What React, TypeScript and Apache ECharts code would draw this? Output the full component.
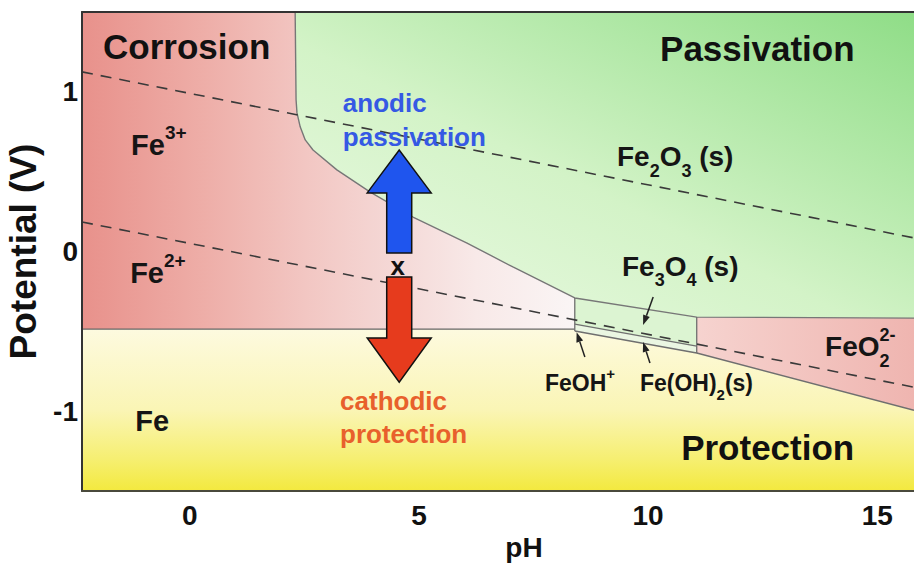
import React, { useEffect, useRef } from 'react';
import * as echarts from 'echarts';

const FONT = '"Liberation Sans", Arial, Helvetica, sans-serif';

// ---- axes ----
const phExtent = [-2.35, 15.8];
const potentialExtent = [-1.5, 1.5];
const phTicks = [0, 5, 10, 15];
const potentialTicks = [-1, 0, 1];

// ---- phase boundaries (pH, E in V) ----
const passivationCurve = [
  [2.3, 1.5], [2.32, 0.95], [2.34, 0.868], [2.41, 0.781], [2.52, 0.699], [2.69, 0.636],
  [3.21, 0.511], [3.93, 0.373], [4.87, 0.216], [6.05, 0.053], [7.05, -0.097], [8.4, -0.291],
];
const magnetiteTop = [[8.4, -0.291], [11.06, -0.411], [15.8, -0.417]];
const ironLine = [[-2.35, -0.486], [8.4, -0.486]];
const hydroxideUpper = [[8.4, -0.455], [11.06, -0.592]];
const hydroxideLower = [[8.4, -0.498], [11.06, -0.636], [15.8, -0.994]];
const magnetiteLeft = [[8.4, -0.291], [8.4, -0.498]];
const magnetiteRight = [[11.06, -0.411], [11.06, -0.636]];

// ---- water stability lines (dashed) ----
const oxygenLine = [[-2.35, 1.125], [15.8, 0.085]];
const hydrogenLine = [[-2.35, 0.185], [15.8, -0.85]];

// ---- labels ----
const regionTitles = ['Corrosion', 'Passivation', 'Protection'];
const regionTitlePos = [[-1.89, 1.282], [10.26, 1.27], [10.72, -1.226]];
const speciesNames = ['Fe^{3+}', 'Fe^{2+}', 'Fe', 'Fe_{2}O_{3} (s)', 'Fe_{3}O_{4} (s)', 'FeO_{2}^{2-}', 'FeOH^{+}', 'Fe(OH)_{2}(s)'];
const speciesPos = [[-1.28, 0.668], [-1.3, -0.135], [-1.19, -1.063], [9.32, 0.592], [9.43, -0.091], [13.86, -0.598], [7.75, -0.825], [9.82, -0.825]];
const processNames = ['anodic', 'passivation', 'x', 'cathodic', 'protection'];
const processPos = [[3.34, 0.931], [3.34, 0.718], [4.54, -0.091], [3.28, -0.937], [3.28, -1.144]];

// ---- arrows: [pH, tail E, head-base E, tip E] ----
const bigArrows = [[4.57, -0.009, 0.367, 0.636], [4.57, -0.16, -0.542, -0.818]];
// pointer arrows: [pH start, E start, pH end, E end]
const pointerArrows = [[8.62, -0.661, 8.44, -0.505], [10.04, -0.699, 9.89, -0.567], [10.11, -0.285, 9.89, -0.461]];

// ---- styling ----
const speciesSizes = [29, 29, 29, 28, 28, 28, 23, 23];
const processColors = ['#3559e4', '#3559e4', '#111111', '#e8602c', '#e8602c'];
const arrowColors = ['#1f55ee', '#e63b1d'];

let measureCtx: CanvasRenderingContext2D | null = null;
function textWidth(t: string, size: number) {
  if (!measureCtx && typeof document !== 'undefined') {
    measureCtx = document.createElement('canvas').getContext('2d');
  }
  if (!measureCtx) return t.length * size * 0.6;
  measureCtx.font = `bold ${size}px ${FONT}`;
  return measureCtx.measureText(t).width;
}

function parseMarkup(s: string) {
  const out: { t: string; k: 'n' | 'sub' | 'sup' }[] = [];
  const re = /([_^])\{([^}]*)\}|([^_^]+)/g;
  let m: RegExpExecArray | null;
  while ((m = re.exec(s))) {
    if (m[1]) out.push({ t: m[2], k: m[1] === '_' ? 'sub' : 'sup' });
    else out.push({ t: m[3], k: 'n' });
  }
  return out;
}

function buildLabel(markup: string, x: number, y: number, size: number, color: string, align: 'left' | 'center') {
  const toks = parseMarkup(markup);
  const small = Math.round(size * 0.65);
  const pieces: { t: string; x: number; dy: number; fs: number }[] = [];
  let cx = 0;
  let lastScriptStart: number | null = null;
  let prevKind = 'n';
  for (const tok of toks) {
    const fs = tok.k === 'n' ? size : small;
    let startX = cx;
    if (tok.k === 'sup' && prevKind === 'sub' && lastScriptStart != null) startX = lastScriptStart;
    let txt = tok.t;
    const lead = txt.match(/^\s+/);
    if (lead) {
      startX += textWidth(lead[0].replace(/\s/g, '\u00a0'), fs);
      txt = txt.slice(lead[0].length);
    }
    const w = textWidth(txt, fs);
    const dy = tok.k === 'sub' ? size * 0.5 : tok.k === 'sup' ? -size * 0.42 : 0;
    pieces.push({ t: txt, x: startX, dy, fs });
    if (tok.k !== 'n') lastScriptStart = startX;
    cx = Math.max(cx, startX + w);
    prevKind = tok.k;
  }
  const offset = align === 'center' ? -cx / 2 : 0;
  return pieces.map((p) => ({
    type: 'text',
    x: x + offset + p.x,
    y: y + p.dy,
    style: {
      text: p.t,
      fill: color,
      fontSize: p.fs,
      fontWeight: 'bold',
      fontFamily: FONT,
      align: 'left',
      verticalAlign: 'middle',
    },
  }));
}

function polygonSeries(pts: number[][], fill: any, z = 1) {
  return {
    type: 'custom',
    coordinateSystem: 'cartesian2d',
    silent: true,
    z,
    data: [pts[0]],
    renderItem: (_p: any, api: any) => ({
      type: 'polygon',
      shape: { points: pts.map((p) => api.coord(p)) },
      style: { fill, stroke: 'none' },
    }),
  };
}

function lineSeries(data: number[][], color: string, width: number, type: any = 'solid', z = 5) {
  return {
    type: 'line',
    data,
    symbol: 'none',
    silent: true,
    z,
    lineStyle: { color, width, type },
  };
}

function buildOption() {
  const [xMin, xMax] = phExtent;
  const [yMin, yMax] = potentialExtent;

  const corrosionPoly = [[xMin, yMax], ...passivationCurve, ironLine[1], ironLine[0]];
  const passivationPoly = [
    passivationCurve[0], [xMax, yMax], magnetiteTop[2], magnetiteTop[1],
    ...passivationCurve.slice().reverse(),
  ];
  const magnetitePoly = [magnetiteTop[0], magnetiteTop[1], hydroxideUpper[1], hydroxideUpper[0]];
  const hydroxidePoly = [hydroxideUpper[0], hydroxideUpper[1], hydroxideLower[1], hydroxideLower[0]];
  const ferratePoly = [magnetiteTop[1], magnetiteTop[2], hydroxideLower[2], hydroxideLower[1]];
  const ironPoly = [ironLine[0], ironLine[1], ...hydroxideLower, [xMax, yMin], [xMin, yMin]];

  const G = echarts.graphic.LinearGradient;
  const corrosionFill = new G(0, 0, 1, 0, [
    { offset: 0, color: '#e8918b' },
    { offset: 0.25, color: '#eeaea8' },
    { offset: 0.45, color: '#f2c6c2' },
    { offset: 0.65, color: '#f5dad8' },
    { offset: 0.8, color: '#f8e9e8' },
    { offset: 1, color: '#faf5f5' },
  ]);
  const passivationFill = new G(0, 1, 1, 0, [
    { offset: 0, color: '#edfae6' },
    { offset: 0.45, color: '#d3f3c7' },
    { offset: 1, color: '#8fdd87' },
  ]);
  const ironFill = new G(0, 0, 0, 1, [
    { offset: 0, color: '#fdfadf' },
    { offset: 0.5, color: '#faf5b5' },
    { offset: 0.8, color: '#f6ef72' },
    { offset: 1, color: '#f3e93e' },
  ]);
  const ferrateFill = new G(0, 0, 1, 0, [
    { offset: 0, color: '#f6d3cf' },
    { offset: 1, color: '#efb5b0' },
  ]);

  const labelItems: { text: string; pos: number[]; size: number; color: string; align: 'left' | 'center' }[] = [];
  regionTitles.forEach((t, i) => labelItems.push({ text: t, pos: regionTitlePos[i], size: 35, color: '#111111', align: 'left' }));
  speciesNames.forEach((t, i) => labelItems.push({ text: t, pos: speciesPos[i], size: speciesSizes[i], color: '#151515', align: 'left' }));
  processNames.forEach((t, i) => labelItems.push({ text: t, pos: processPos[i], size: 26, color: processColors[i], align: t === 'x' ? 'center' : 'left' }));

  const axisText = { color: '#111', fontWeight: 'bold', fontFamily: FONT };

  return {
    animation: false,
    grid: { left: 82, right: 0, top: 12, bottom: 72, containLabel: false, outerBoundsMode: 'none' },
    xAxis: [
      {
        type: 'value',
        min: xMin,
        max: xMax,
        name: 'pH',
        nameLocation: 'middle',
        nameGap: 38,
        nameTextStyle: { ...axisText, fontSize: 28, padding: [0, 0, 0, 52] },
        axisLine: { show: true, onZero: false, lineStyle: { color: '#4a4a3c', width: 2 } },
        axisTick: { show: false },
        splitLine: { show: false },
        axisLabel: { ...axisText, customValues: phTicks, fontSize: 28, margin: 10 },
        z: 10,
      },
      {
        type: 'value',
        position: 'top',
        min: xMin,
        max: xMax,
        axisLine: { show: true, onZero: false, lineStyle: { color: '#333', width: 2 } },
        axisTick: { show: false },
        axisLabel: { show: false },
        splitLine: { show: false },
        z: 10,
      },
    ],
    yAxis: {
      type: 'value',
      min: yMin,
      max: yMax,
      name: 'Potential (V)',
      nameLocation: 'middle',
      nameGap: 36,
      nameRotate: 90,
      nameTextStyle: { ...axisText, fontSize: 37 },
      axisLine: { show: true, onZero: false, lineStyle: { color: '#333', width: 2 } },
      axisTick: { show: false },
      splitLine: { show: false },
      axisLabel: { ...axisText, customValues: potentialTicks, fontSize: 28, margin: 4 },
      z: 10,
    },
    series: [
      polygonSeries(corrosionPoly, corrosionFill),
      polygonSeries(passivationPoly, passivationFill),
      polygonSeries(magnetitePoly, '#dcf4d2'),
      polygonSeries(hydroxidePoly, '#eaf6e2'),
      polygonSeries(ferratePoly, ferrateFill),
      polygonSeries(ironPoly, ironFill),
      lineSeries([...passivationCurve, ...magnetiteTop.slice(1)], '#777777', 1.4),
      lineSeries(ironLine, '#666666', 1.4),
      lineSeries(hydroxideUpper, '#6f6f6f', 1.3),
      lineSeries(hydroxideLower, '#6f6f6f', 1.4),
      lineSeries(magnetiteLeft, '#6f6f6f', 1.3),
      lineSeries(magnetiteRight, '#6f6f6f', 1.3),
      lineSeries(oxygenLine, '#3a3a3a', 1.6, [11, 8], 6),
      lineSeries(hydrogenLine, '#3a3a3a', 1.6, [11, 8], 6),
      {
        type: 'custom',
        coordinateSystem: 'cartesian2d',
        silent: true,
        z: 12,
        data: bigArrows.map((a) => [a[0], a[1]]),
        renderItem: (params: any, api: any) => {
          const a = bigArrows[params.dataIndex];
          const tail = api.coord([a[0], a[1]]);
          const base = api.coord([a[0], a[2]]);
          const tip = api.coord([a[0], a[3]]);
          const cx = tip[0];
          const sw = 12.5;
          const hw = 32;
          return {
            type: 'polygon',
            shape: {
              points: [
                [cx - sw, tail[1]], [cx - sw, base[1]], [cx - hw, base[1]], [cx, tip[1]],
                [cx + hw, base[1]], [cx + sw, base[1]], [cx + sw, tail[1]],
              ],
            },
            style: { fill: arrowColors[params.dataIndex], stroke: '#111', lineWidth: 1.5 },
          };
        },
      },
      {
        type: 'custom',
        coordinateSystem: 'cartesian2d',
        silent: true,
        z: 12,
        data: pointerArrows.map((a) => [a[0], a[1]]),
        renderItem: (params: any, api: any) => {
          const p = pointerArrows[params.dataIndex];
          const s = api.coord([p[0], p[1]]);
          const e = api.coord([p[2], p[3]]);
          const dx = e[0] - s[0];
          const dy = e[1] - s[1];
          const L = Math.hypot(dx, dy) || 1;
          const ux = dx / L;
          const uy = dy / L;
          const hl = 10;
          const hw = 3.5;
          const bx = e[0] - ux * hl;
          const by = e[1] - uy * hl;
          return {
            type: 'group',
            children: [
              { type: 'line', shape: { x1: s[0], y1: s[1], x2: bx, y2: by }, style: { stroke: '#222', lineWidth: 1.5 } },
              {
                type: 'polygon',
                shape: { points: [[e[0], e[1]], [bx - uy * hw, by + ux * hw], [bx + uy * hw, by - ux * hw]] },
                style: { fill: '#222' },
              },
            ],
          };
        },
      },
      {
        type: 'custom',
        coordinateSystem: 'cartesian2d',
        silent: true,
        z: 20,
        data: labelItems.map((l) => l.pos),
        renderItem: (params: any, api: any) => {
          const l = labelItems[params.dataIndex];
          const [x, y] = api.coord(l.pos);
          return { type: 'group', children: buildLabel(l.text, x, y, l.size, l.color, l.align) };
        },
      },
    ],
  };
}

export default function App() {
  const ref = useRef<HTMLDivElement>(null);
  useEffect(() => {
    if (!ref.current) return;
    const chart = echarts.init(ref.current, null, { renderer: 'svg' });
    chart.setOption(buildOption() as any);
    return () => chart.dispose();
  }, []);
  return (
    <div
      ref={ref}
      style={{ position: 'fixed', left: 0, top: 0, width: 914, height: 563, background: '#ffffff' }}
    />
  );
}
